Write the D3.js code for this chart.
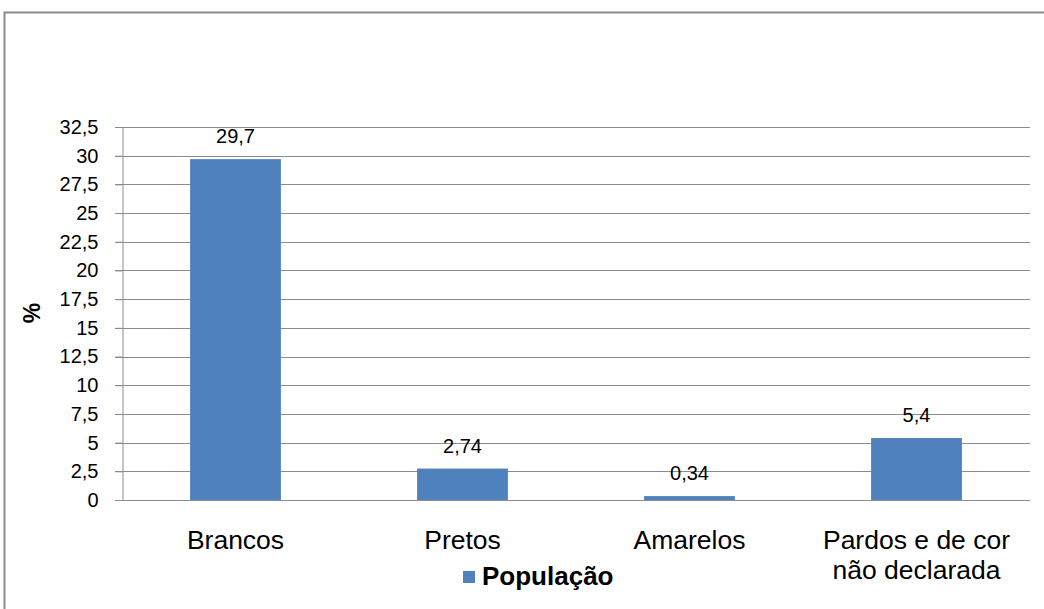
<!DOCTYPE html>
<html>
<head>
<meta charset="utf-8">
<script src="https://cdn.jsdelivr.net/npm/d3@7"></script>
<style>
  body { margin: 0; background: #fff; }
  text { font-family: "Liberation Sans", Arial, sans-serif; fill: #000; }
</style>
</head>
<body>
<div id="chart"></div>
<script>
// datos del grafico
var categorias = ["Brancos", "Pretos", "Amarelos", "Pardos e de cor\nnão declarada"];
var valores = [29.7, 2.74, 0.34, 5.4];
var etiquetas = ["29,7", "2,74", "0,34", "5,4"];
var ticks = [0, 2.5, 5, 7.5, 10, 12.5, 15, 17.5, 20, 22.5, 25, 27.5, 30, 32.5];
var serie = "População";

var ancho = 1044, altura = 609;
var margin = {top: 127, right: 14, bottom: 109, left: 122};

var svg = d3.select("#chart")
  .append("svg")
    .attr("width", ancho)
    .attr("height", altura);

// marco exterior
svg.append("rect")
  .attr("x", 4.5)
  .attr("y", 12.5)
  .attr("width", ancho + 20)
  .attr("height", altura + 20)
  .style("fill", "none")
  .style("stroke", "#8a8a8a")
  .style("stroke-width", 2);

var x = d3.scaleBand()
  .domain(categorias)
  .range([margin.left, ancho - margin.right])
  .padding(0);

var y = d3.scaleLinear()
  .domain([0, 32.5])
  .range([altura - margin.bottom, margin.top]);

var fmt = function(d) { return String(d).replace(".", ","); };

// lineas de la grilla
svg.append("g")
  .selectAll("line")
  .data(ticks)
  .enter()
  .append("line")
    .attr("x1", margin.left - 7)
    .attr("x2", ancho - margin.right)
    .attr("y1", function(d) { return Math.round(y(d)) + 0.5; })
    .attr("y2", function(d) { return Math.round(y(d)) + 0.5; })
    .style("stroke", "#8c8c8c")
    .style("stroke-width", 1);

// eje vertical
var ejeY = svg.append("g")
  .attr("transform", "translate(" + (margin.left + 0.5) + ",0)")
  .call(d3.axisLeft(y).tickValues(ticks).tickFormat(fmt).tickSize(7).tickPadding(17));
ejeY.select(".domain").style("stroke", "#8c8c8c");
ejeY.selectAll(".tick line").style("stroke", "#8c8c8c");
ejeY.selectAll(".tick text")
  .style("font-size", "20px")
  .style("font-family", "'Liberation Sans', Arial, sans-serif")
  .attr("fill", "#000");

// titulo del eje
svg.append("text")
  .attr("transform", "translate(40," + 313 + ") rotate(-90)")
  .attr("text-anchor", "middle")
  .style("font-size", "23px")
  .style("font-weight", "bold")
  .text("%");

// barras
var bw = x.bandwidth();
svg.selectAll(".barra")
  .data(valores)
  .enter()
  .append("rect")
    .attr("class", "barra")
    .attr("x", function(d, i) { return x(categorias[i]) + bw * 0.3; })
    .attr("y", function(d) { return y(d); })
    .attr("width", bw * 0.4)
    .attr("height", function(d) { return y(0) - y(d); })
    .style("fill", "#4f81bd");

// etiquetas de datos
svg.selectAll(".valor")
  .data(valores)
  .enter()
  .append("text")
    .attr("class", "valor")
    .attr("x", function(d, i) { return x(categorias[i]) + bw / 2; })
    .attr("y", function(d) { return y(d) - 16; })
    .attr("text-anchor", "middle")
    .style("font-size", "20px")
    .text(function(d, i) { return etiquetas[i]; });

// etiquetas de categorias
svg.selectAll(".cat")
  .data(categorias)
  .enter()
  .append("text")
    .attr("class", "cat")
    .attr("text-anchor", "middle")
    .style("font-size", "26.5px")
    .each(function(d) {
      var t = d3.select(this);
      d.split("\n").forEach(function(linea, k) {
        t.append("tspan")
          .attr("x", x(d) + bw / 2)
          .attr("y", 549 + k * 30)
          .text(linea);
      });
    });

// leyenda
svg.append("rect")
  .attr("x", 463)
  .attr("y", 571)
  .attr("width", 12)
  .attr("height", 12)
  .style("fill", "#4f81bd");
svg.append("text")
  .attr("x", 482)
  .attr("y", 585)
  .style("font-size", "26px")
  .style("font-weight", "bold")
  .text(serie);
</script>
</body>
</html>
